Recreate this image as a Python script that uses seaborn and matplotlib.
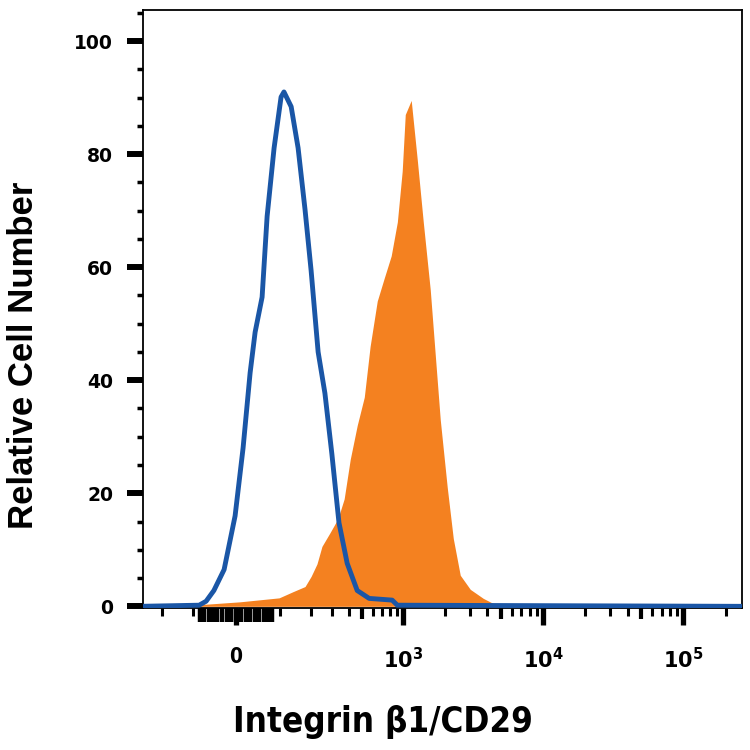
import numpy as np
import pandas as pd
import matplotlib
matplotlib.use("Agg")
import matplotlib.pyplot as plt
import seaborn as sns

# fluorescence values and % of max
isotype_x = [-300, -83, -66, -48, -25.5, -2.1, 14.8, 29.9, 40.9, 56.7, 68.5, 85.7,
             104, 112, 133, 155, 179, 202, 231, 262, 297, 337, 389, 462, 566,
             831, 906, 262144]
isotype_y = [0, 0.2, 0.9, 2.8, 6.5, 16.0, 28.0, 41.3, 48.5, 54.7, 69.0, 81.1,
             90.1, 91.0, 88.4, 81.1, 70.2, 59.4, 45.0, 37.7, 27.0, 14.8, 7.6, 2.8, 1.4,
             1.1, 0.2, 0]

stained_x = [-300, -80.7, 8.5, 98.8, 139, 179, 202, 226, 248, 287, 331, 369, 410,
             462, 521, 575, 648, 727, 818, 906, 982, 1033, 1140, 1260, 1391, 1561,
             1695, 1841, 2066, 2281, 2558, 3017, 3740, 4408, 5834, 262144]
stained_y = [0, 0.3, 0.8, 1.5, 2.6, 3.5, 5.3, 7.5, 10.6, 13.0, 15.5, 19.0, 26.0,
             32.0, 37.0, 46.0, 54.0, 58.0, 62.0, 68.0, 77.0, 87.0, 89.5, 79.0, 68.0, 56.0,
             44.5, 33.0, 21.0, 12.0, 5.5, 3.0, 1.4, 0.5, 0, 0]

major_x = [0, 1e3, 1e4, 1e5]
major_x_labels = ["0", r"$\mathbf{10^{3}}$", r"$\mathbf{10^{4}}$", r"$\mathbf{10^{5}}$"]
mid_x = [500, 5e3, 5e4]
zero_x = list(range(-80, 90, 10))
minor_x = ([-200, -100, 100, 200, 300, 400, 600, 700, 800, 900] +
           [2e3, 3e3, 4e3, 6e3, 7e3, 8e3, 9e3] +
           [2e4, 3e4, 4e4, 6e4, 7e4, 8e4, 9e4, 2e5])

BLUE = "#1a56a6"
ORANGE = "#f48120"
C = 128.7


def fwd(x):
    return np.arcsinh(np.asarray(x, dtype=float) / C)


def inv(y):
    return C * np.sinh(np.asarray(y, dtype=float))


sns.set_style("ticks", {"axes.edgecolor": "black", "xtick.color": "black",
                        "ytick.color": "black", "text.color": "black",
                        "axes.labelcolor": "black"})
plt.rcParams["mathtext.fontset"] = "dejavusans"

iso = pd.DataFrame({"x": isotype_x, "y": isotype_y})
stain = pd.DataFrame({"x": stained_x, "y": stained_y})

fig = plt.figure(figsize=(7.5, 7.5), dpi=100)
ax = fig.add_axes([0.1907, 0.1893, 0.7986, 0.7974])
ax.set_xscale("function", functions=(fwd, inv))

ax.fill_between(stain["x"], stain["y"], 0, color=ORANGE, linewidth=0, zorder=1)
sns.lineplot(data=iso, x="x", y="y", ax=ax, color=BLUE, linewidth=3.5, zorder=3)

ax.set_xlim(-283, 262144)
ax.set_ylim(-0.3, 105.5)

for s in ax.spines.values():
    s.set_linewidth(1.3)
    s.set_color("black")

ax.set_yticks(range(0, 101, 20))
ax.set_yticks(range(0, 106, 5), minor=True)
ax.tick_params(axis="y", which="major", length=11.5, width=4.3, pad=10, colors="black")
ax.tick_params(axis="y", which="minor", length=4.5, width=2.5, colors="black")
for lbl in ax.get_yticklabels():
    lbl.set_fontfamily("DejaVu Sans")
    lbl.set_fontweight("bold")
    lbl.set_fontsize(13.5)

ax.set_xticks(major_x)
ax.set_xticklabels(major_x_labels, fontfamily="DejaVu Sans", fontstretch="condensed",
                   fontweight="bold", fontsize=15)
ax.set_xticks(minor_x, minor=True)
ax.tick_params(axis="x", which="major", length=12, width=3.8, pad=16, colors="black")
ax.tick_params(axis="x", which="minor", length=5.5, width=2.2, colors="black")

# medium-length ticks and the dense cluster around zero on a twin axis
ax_mid = ax.twiny()
ax_mid.set_xscale("function", functions=(fwd, inv))
ax_mid.set_xlim(ax.get_xlim())
ax_mid.xaxis.set_ticks_position("bottom")
ax_mid.set_xticks(mid_x)
ax_mid.set_xticks(zero_x, minor=True)
ax_mid.set_xticklabels([])
ax_mid.set_xticklabels([], minor=True)
ax_mid.tick_params(axis="x", which="major", length=8, width=3, colors="black")
ax_mid.tick_params(axis="x", which="minor", length=10, width=3.2, colors="black")
for s in ax_mid.spines.values():
    s.set_visible(False)

ax.set_xlabel("Integrin β1/CD29", fontfamily="DejaVu Sans", fontstretch="condensed",
              fontweight="bold", fontsize=25)
ax.xaxis.set_label_coords(0.40, -0.162)
ax.set_ylabel("Relative Cell Number", fontfamily="Liberation Sans",
              fontweight="bold", fontsize=25)
ax.yaxis.set_label_coords(-0.172, 0.423)

fig.savefig("out.png", dpi=100)
